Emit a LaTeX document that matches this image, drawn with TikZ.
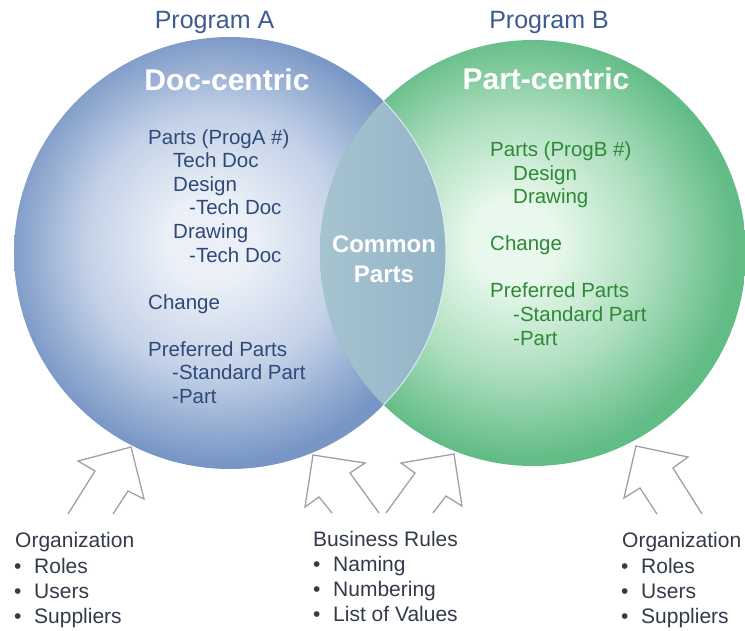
\documentclass[tikz,border=0pt]{standalone}
\usepackage{fontspec}
\setmainfont{Liberation Sans}
\usetikzlibrary{calc}
\definecolor{aIn}{HTML}{EBF0F8}
\definecolor{aMid}{HTML}{C3D1E7}
\definecolor{aOut}{HTML}{7896C5}
\definecolor{bIn}{HTML}{E8F8EC}
\definecolor{bMid}{HTML}{AEDFBF}
\definecolor{bOut}{HTML}{62BC86}
\definecolor{lensL}{HTML}{A6C3CF}
\definecolor{lensR}{HTML}{6690BA}
\definecolor{navy}{HTML}{2F4A78}
\definecolor{progblue}{HTML}{3C5C90}
\definecolor{greentxt}{HTML}{2E8A36}
\definecolor{bottomtxt}{HTML}{333A48}
\definecolor{arrowgray}{HTML}{A0A0A0}
\pgfdeclareradialshading{ballA}{\pgfpoint{-2.5bp}{1.5bp}}{color(0bp)=(aIn); color(5bp)=(aIn); color(15bp)=(aMid); color(25bp)=(aOut); color(50bp)=(aOut)}
\pgfdeclareradialshading{ballB}{\pgfpoint{-2.5bp}{1.5bp}}{color(0bp)=(bIn); color(5bp)=(bIn); color(15bp)=(bMid); color(25bp)=(bOut); color(50bp)=(bOut)}
\newcommand{\bitem}[1]{\makebox[20pt][l]{\textbullet}#1}
\tikzset{
  txtA/.style={anchor=base west, inner sep=0pt, text=navy, font=\fontsize{20.5}{24}\selectfont},
  txtB/.style={anchor=base west, inner sep=0pt, text=greentxt, font=\fontsize{20.5}{24}\selectfont},
  prog/.style={anchor=base, inner sep=0pt, text=progblue, font=\fontsize{25}{30}\selectfont},
  title/.style={anchor=base, inner sep=0pt, text=white, font=\fontsize{30}{36}\selectfont\bfseries},
  common/.style={anchor=base, inner sep=0pt, text=white, font=\fontsize{24}{28}\selectfont\bfseries},
  btxt/.style={anchor=base west, inner sep=0pt, text=bottomtxt, font=\fontsize{21}{26}\selectfont},
  blockarrow/.style={draw=arrowgray, line width=1.3pt, line join=miter}
}
\begin{document}
\begin{tikzpicture}[x=1pt,y=-1pt]
\useasboundingbox (0,0) rectangle (745,630);
% circles
\coordinate (cA) at (230,253);
\coordinate (cB) at (533,253);
\shade[shading=ballA] (cA) circle (216);
\shade[shading=ballB] (cB) circle (213);
% lens
\begin{scope}
  \clip (cA) circle (216);
  \shade[left color=lensL, right color=lensR] (cB) circle (213);
\end{scope}
\begin{scope}
  \clip (cB) circle (213);
  \draw[white!80!lensR, line width=1pt] (cA) circle (216);
\end{scope}
% headings
\node[prog] (progA) at (214.5,28) {Program A};
\node[prog] (progB) at (549,28) {Program B};
\node[title] (docc) at (227,90) {Doc-centric};
\node[title] (partc) at (546,89) {Part-centric};
\node[common] (cp1) at (384,252) {Common};
\node[common] (cp2) at (384,282) {Parts};
% left circle text
\node[txtA] (a1) at (148,144) {Parts (ProgA \#)};
\node[txtA] (a2) at (173,167) {Tech Doc};
\node[txtA] (a3) at (173,191) {Design};
\node[txtA] (a4) at (189,214) {-Tech Doc};
\node[txtA] (a5) at (173,238) {Drawing};
\node[txtA] (a6) at (189,262) {-Tech Doc};
\node[txtA] (a7) at (148,309) {Change};
\node[txtA] (a8) at (148,356) {Preferred Parts};
\node[txtA] (a9) at (172,379) {-Standard Part};
\node[txtA] (a10) at (172,403) {-Part};
% right circle text
\node[txtB] (b1) at (490,156) {Parts (ProgB \#)};
\node[txtB] (b2) at (513,180) {Design};
\node[txtB] (b3) at (513,203) {Drawing};
\node[txtB] (b4) at (490,250) {Change};
\node[txtB] (b5) at (490,297) {Preferred Parts};
\node[txtB] (b6) at (513,321) {-Standard Part};
\node[txtB] (b7) at (513,345) {-Part};
% block arrows
\draw[blockarrow] (68,514) -- (95,471) -- (78,461) -- (131,447) -- (144,499) -- (128,491) -- (113,514);
\draw[blockarrow] (332,513) -- (319,497) -- (305,507) -- (313,455) -- (365,463) -- (350,473) -- (379,513);
\draw[blockarrow] (386,513) -- (415,473) -- (401,463) -- (454,454) -- (462,506) -- (446,496) -- (433,513);
\draw[blockarrow] (657,514) -- (640,488) -- (624,498) -- (636,446) -- (688,457) -- (673,468) -- (702,514);
% bottom text left
\node[btxt] (o1) at (15,547) {Organization};
\node[btxt] (o1a) at (14,573) {\bitem{Roles}};
\node[btxt] (o1b) at (14,598) {\bitem{Users}};
\node[btxt] (o1c) at (14,623) {\bitem{Suppliers}};
% bottom text middle
\node[btxt] (br) at (313,546) {Business Rules};
\node[btxt] (bra) at (313,571) {\bitem{Naming}};
\node[btxt] (brb) at (313,596) {\bitem{Numbering}};
\node[btxt] (brc) at (313,621) {\bitem{List of Values}};
% bottom text right
\node[btxt] (o2) at (622,547) {Organization};
\node[btxt] (o2a) at (621,573) {\bitem{Roles}};
\node[btxt] (o2b) at (621,598) {\bitem{Users}};
\node[btxt] (o2c) at (621,623) {\bitem{Suppliers}};
\end{tikzpicture}
\end{document}
